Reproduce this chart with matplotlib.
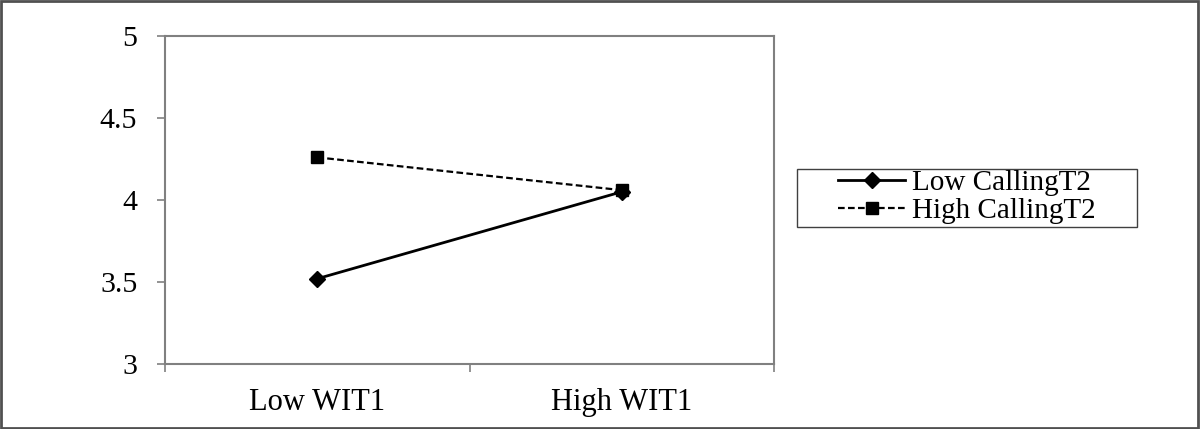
import matplotlib
matplotlib.use("Agg")
import matplotlib.pyplot as plt
from matplotlib.patches import Rectangle

# data
categories = ["Low WIT1", "High WIT1"]
series_names = ["Low CallingT2", "High CallingT2"]
low_calling = [3.52, 4.05]
high_calling = [4.26, 4.06]
y_ticks = [3, 3.5, 4, 4.5, 5]
y_labels = ["3", "3.5", "4", "4.5", "5"]

plt.rcParams["font.family"] = ["Liberation Serif", "DejaVu Serif"]

W, H = 1200, 429
fig = plt.figure(figsize=(W / 100, H / 100), dpi=100)
ax = fig.add_axes([165 / W, (H - 364) / H, 609 / W, 328 / H])

xpos = [i + 0.5 for i in range(len(categories))]
ax.plot(xpos, low_calling, color="black", linestyle="-", linewidth=2,
        marker="D", markersize=8, label=series_names[0])
ax.plot(xpos, high_calling, color="black", linestyle=(0, (3, 1.5)), linewidth=1.6,
        marker="s", markersize=9, label=series_names[1])

ax.set_xlim(0, len(categories))
ax.set_ylim(3, 5)
ax.set_yticks(y_ticks)
ax.set_yticklabels(y_labels)
ax.set_xticks(range(len(categories) + 1))
ax.set_xticklabels([])
ax.set_xticks(xpos, minor=True)
ax.set_xticklabels(categories, minor=True)

grey = "#808080"
for s in ax.spines.values():
    s.set_color(grey)
    s.set_linewidth(1.5)
ax.tick_params(axis="both", which="major", direction="out", length=6,
               width=1.2, color=grey)
ax.tick_params(axis="y", labelsize=21.5, pad=14)
ax.tick_params(axis="x", which="minor", length=0, labelsize=22, pad=17)

# legend without its own frame; the box is drawn separately (wide side margins)
leg = fig.legend(loc="center", bbox_to_anchor=(967 / W, 1 - 197 / H),
                 fontsize=21, frameon=False,
                 handlelength=2.3, handletextpad=0.25,
                 labelspacing=0.07, borderpad=0, borderaxespad=0)
fig.patches.append(Rectangle((797 / W, 1 - 227 / H), 340 / W, 58 / H,
                             transform=fig.transFigure, fill=False,
                             edgecolor="#404040", linewidth=1.0))

# grey frame around the whole picture
fig.patches.append(Rectangle((0.001, 0.002), 0.997, 0.996, transform=fig.transFigure,
                             fill=False, edgecolor="#505050", linewidth=2))

fig.savefig("out.png", dpi=100)
